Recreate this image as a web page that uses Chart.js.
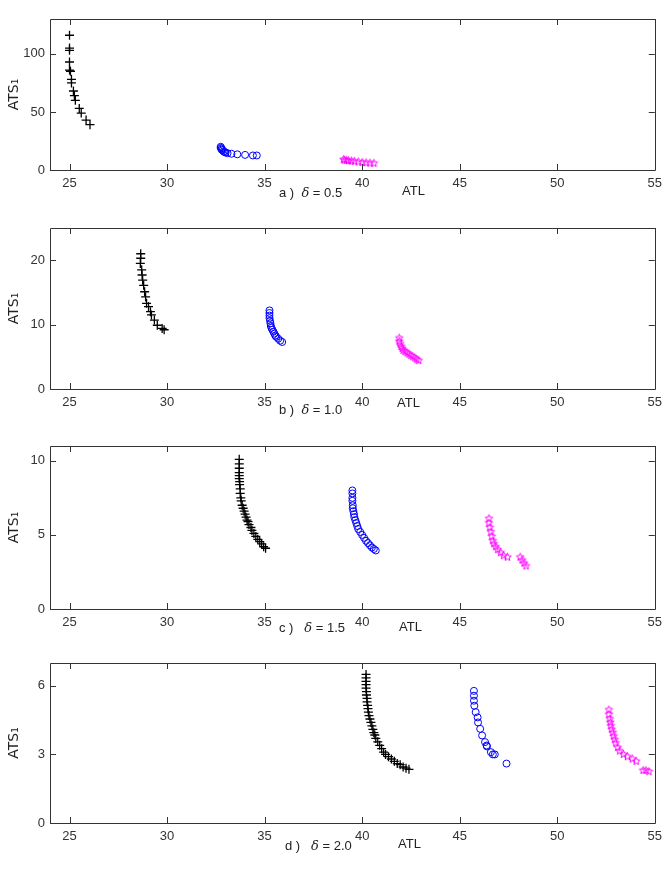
<!DOCTYPE html>
<html>
<head>
<meta charset="utf-8">
<script src="https://cdn.jsdelivr.net/npm/chart.js@4"></script>
<style>
  html, body { margin: 0; padding: 0; background: #fff; }
  #page { position: relative; width: 668px; height: 873px; overflow: hidden; }
  #page canvas { position: absolute; left: 0; }
  .cap { position: absolute; font: 13px "Liberation Sans", Arial, sans-serif; color: #222; white-space: pre; line-height: 14px; }
  .cap i { font-family: "DejaVu Serif", serif; font-style: italic; }
</style>
</head>
<body>
<div id="page">
  <canvas id="pa" width="668" height="210" style="top:0px"></canvas>
  <canvas id="pb" width="668" height="220" style="top:210px"></canvas>
  <canvas id="pc" width="668" height="220" style="top:430px"></canvas>
  <canvas id="pd" width="668" height="223" style="top:650px"></canvas>
  <div class="cap" style="left:279px;top:186px">a )  <i>δ</i> = 0.5</div>
  <div class="cap" style="left:402px;top:184px">ATL</div>
  <div class="cap" style="left:279px;top:403px">b )  <i>δ</i> = 1.0</div>
  <div class="cap" style="left:397px;top:396px">ATL</div>
  <div class="cap" style="left:279px;top:621px">c )   <i>δ</i> = 1.5</div>
  <div class="cap" style="left:399px;top:620px">ATL</div>
  <div class="cap" style="left:285px;top:839px">d )   <i>δ</i> = 2.0</div>
  <div class="cap" style="left:398px;top:837px">ATL</div>
</div>
<script>
// shared axis ticks
const xTicks = [25, 30, 35, 40, 45, 50, 55];
const yTicksA = [0, 50, 100];
const yTicksB = [0, 10, 20];
const yTicksC = [0, 5, 10];
const yTicksD = [0, 3, 6];

// a) delta = 0.5
const aPlusX = [25.0, 25.0, 25.0, 25.0, 25.0, 25.05, 25.1, 25.1, 25.2, 25.25, 25.3, 25.5, 25.6, 25.85, 26.05];
const aPlusY = [116, 105, 103, 93, 86, 85, 78, 75, 68, 64, 60, 53, 49, 43, 39];
const aCircX = [32.75, 32.75, 32.8, 32.8, 32.85, 32.9, 32.95, 33.0, 33.1, 33.3, 33.6, 34.0, 34.4, 34.6];
const aCircY = [20, 19, 18.5, 17.5, 17, 16, 15.5, 15, 14.5, 14, 13.5, 13, 12.5, 12.5];
const aStarX = [39.05, 39.1, 39.2, 39.3, 39.45, 39.6, 39.8, 40.0, 40.2, 40.4, 40.6];
const aStarY = [9.0, 8.5, 8.3, 8.0, 7.8, 7.5, 7.0, 6.5, 6.2, 6.0, 5.8];

// b) delta = 1.0
const bPlusX = [28.65, 28.65, 28.63, 28.7, 28.72, 28.75, 28.8, 28.85, 28.9, 28.95, 29.05, 29.15, 29.2, 29.35, 29.5, 29.75, 29.85];
const bPlusY = [21.0, 20.3, 19.5, 18.5, 17.7, 16.9, 16.1, 15.1, 14.3, 13.3, 12.8, 12.0, 11.5, 10.7, 9.9, 9.4, 9.2];
const bCircX = [35.25, 35.25, 35.25, 35.25, 35.28, 35.3, 35.32, 35.35, 35.4, 35.45, 35.5, 35.55, 35.6, 35.7, 35.8, 35.9];
const bCircY = [12.2, 11.8, 11.4, 11.0, 10.6, 10.2, 9.8, 9.5, 9.2, 8.9, 8.6, 8.3, 8.1, 7.8, 7.5, 7.3];
const bStarX = [41.9, 41.9, 41.95, 42.0, 42.05, 42.1, 42.2, 42.3, 42.4, 42.5, 42.6, 42.7, 42.8, 42.9];
const bStarY = [7.9, 7.4, 7.0, 6.6, 6.3, 6.0, 5.8, 5.6, 5.4, 5.2, 5.0, 4.8, 4.6, 4.4];

// c) delta = 1.5
const cPlusX = [33.7, 33.7, 33.7, 33.7, 33.7, 33.7, 33.72, 33.72, 33.75, 33.75, 33.78, 33.8, 33.85, 33.9, 33.95, 34.0, 34.05, 34.1, 34.15, 34.2, 34.3, 34.35, 34.45, 34.55, 34.65, 34.75, 34.85, 34.95, 35.05];
const cPlusY = [10.1, 9.8, 9.5, 9.2, 9.0, 8.8, 8.6, 8.4, 8.1, 7.8, 7.5, 7.3, 7.0, 6.8, 6.6, 6.4, 6.2, 6.0, 5.9, 5.7, 5.5, 5.3, 5.1, 4.9, 4.7, 4.55, 4.4, 4.2, 4.1];
const cCircX = [39.5, 39.5, 39.5, 39.5, 39.52, 39.52, 39.55, 39.58, 39.6, 39.65, 39.7, 39.75, 39.8, 39.9, 40.0, 40.1, 40.2, 40.3, 40.4, 40.5, 40.6, 40.7];
const cCircY = [8.0, 7.8, 7.5, 7.3, 7.0, 6.8, 6.6, 6.4, 6.2, 6.0, 5.8, 5.6, 5.4, 5.2, 5.0, 4.8, 4.6, 4.45, 4.3, 4.15, 4.05, 3.95];
const cStarX = [46.5, 46.5, 46.55, 46.6, 46.65, 46.7, 46.75, 46.85, 46.95, 47.1, 47.25, 47.45, 48.1, 48.2, 48.3, 48.4];
const cStarY = [6.1, 5.8, 5.5, 5.2, 4.9, 4.6, 4.4, 4.2, 4.0, 3.8, 3.6, 3.5, 3.5, 3.3, 3.1, 2.9];

// d) delta = 2.0
const dPlusX = [40.2, 40.2, 40.2, 40.2, 40.2, 40.22, 40.22, 40.25, 40.25, 40.28, 40.3, 40.32, 40.35, 40.4, 40.45, 40.5, 40.55, 40.6, 40.65, 40.7, 40.8, 40.9, 41.0, 41.1, 41.2, 41.35, 41.5, 41.65, 41.8, 41.95, 42.1, 42.25, 42.4];
const dPlusY = [6.5, 6.35, 6.2, 6.05, 5.9, 5.75, 5.6, 5.45, 5.3, 5.15, 5.0, 4.85, 4.7, 4.55, 4.4, 4.25, 4.1, 3.95, 3.85, 3.7, 3.55, 3.4, 3.25, 3.1, 3.0, 2.9, 2.8, 2.7, 2.6, 2.55, 2.45, 2.4, 2.35];
const dCircX = [45.73, 45.73, 45.73, 45.75, 45.82, 45.92, 45.94, 46.05, 46.15, 46.3, 46.38, 46.4, 46.6, 46.7, 46.8, 47.4];
const dCircY = [5.78, 5.57, 5.35, 5.13, 4.85, 4.62, 4.4, 4.12, 3.83, 3.54, 3.39, 3.35, 3.1, 3.0, 3.0, 2.6];
const dStarX = [52.65, 52.65, 52.7, 52.72, 52.75, 52.8, 52.85, 52.9, 52.95, 53.0, 53.1, 53.2, 53.4, 53.6, 53.85, 54.05, 54.4, 54.55, 54.7];
const dStarY = [4.95, 4.75, 4.55, 4.4, 4.25, 4.1, 3.95, 3.8, 3.65, 3.5, 3.3, 3.15, 3.0, 2.9, 2.8, 2.7, 2.3, 2.3, 2.25];

const pts = (xs, ys) => xs.map((x, i) => ({ x: x, y: ys[i] }));

// little pentagram used as the magenta marker
function starImage(color, r) {
  const c = document.createElement('canvas');
  const s = Math.ceil(r * 2 + 3);
  c.width = c.height = s;
  const g = c.getContext('2d');
  g.strokeStyle = color;
  g.lineWidth = 1;
  g.beginPath();
  for (let i = 0; i < 10; i++) {
    const rad = i % 2 ? r * 0.45 : r;
    const ang = -Math.PI / 2 + i * Math.PI / 5;
    const px = s / 2 + rad * Math.cos(ang), py = s / 2 + rad * Math.sin(ang);
    if (i) g.lineTo(px, py); else g.moveTo(px, py);
  }
  g.closePath();
  g.stroke();
  return c;
}
const magStar = starImage('#ff00ff', 4);

// matlab style box with inward ticks on all four sides
const boxTicks = {
  id: 'boxTicks',
  afterDraw(chart) {
    const { ctx, chartArea: a, scales } = chart;
    ctx.save();
    ctx.strokeStyle = '#333';
    ctx.lineWidth = 1;
    ctx.beginPath();
    ctx.rect(Math.round(a.left) + 0.5, Math.round(a.top) + 0.5, Math.round(a.right - a.left), Math.round(a.bottom - a.top));
    scales.x.ticks.forEach(t => {
      const px = Math.round(scales.x.getPixelForValue(t.value)) + 0.5;
      ctx.moveTo(px, a.bottom); ctx.lineTo(px, a.bottom - 6);
      ctx.moveTo(px, a.top); ctx.lineTo(px, a.top + 6);
    });
    scales.y.ticks.forEach(t => {
      const py = Math.round(scales.y.getPixelForValue(t.value)) + 0.5;
      ctx.moveTo(a.left, py); ctx.lineTo(a.left + 6, py);
      ctx.moveTo(a.right, py); ctx.lineTo(a.right - 6, py);
    });
    ctx.stroke();
    ctx.restore();
  }
};

function makePanel(id, plus, circ, star, yMax, yTicks, padTop, xAxisH) {
  return new Chart(document.getElementById(id), {
    type: 'scatter',
    data: {
      datasets: [
        { data: plus, pointStyle: 'cross', pointRadius: 4.5, borderColor: '#000', borderWidth: 1.3 },
        { data: circ, pointStyle: 'circle', pointRadius: 3.5, borderColor: '#0000ff', backgroundColor: 'rgba(0,0,0,0)', borderWidth: 1 },
        { data: star, pointStyle: magStar, pointRadius: 4, borderColor: '#ff00ff' }
      ]
    },
    options: {
      responsive: false,
      animation: false,
      events: [],
      layout: { padding: { top: padTop, right: 12, left: 0, bottom: 0 } },
      plugins: { legend: { display: false }, tooltip: { enabled: false } },
      scales: {
        x: {
          type: 'linear', min: 24, max: 55,
          grid: { display: false, drawTicks: false },
          border: { display: false },
          afterBuildTicks: s => { s.ticks = xTicks.map(v => ({ value: v })); },
          afterFit: s => { s.height = xAxisH; },
          ticks: { color: '#333', padding: 6, maxRotation: 0, font: { family: 'Liberation Sans', size: 13 } }
        },
        y: {
          type: 'linear', min: 0, max: yMax,
          grid: { display: false, drawTicks: false },
          border: { display: false },
          afterBuildTicks: s => { s.ticks = yTicks.map(v => ({ value: v })); },
          afterFit: s => { s.width = 50; },
          ticks: { color: '#333', padding: 5, font: { family: 'Liberation Sans', size: 13 } },
          title: { display: true, text: 'ATS₁', color: '#222', padding: { top: 6 }, font: { family: 'DejaVu Sans', size: 14 } }
        }
      }
    },
    plugins: [boxTicks]
  });
}

makePanel('pa', pts(aPlusX, aPlusY), pts(aCircX, aCircY), pts(aStarX, aStarY), 130, yTicksA, 19, 40);
makePanel('pb', pts(bPlusX, bPlusY), pts(bCircX, bCircY), pts(bStarX, bStarY), 25, yTicksB, 18, 41);
makePanel('pc', pts(cPlusX, cPlusY), pts(cCircX, cCircY), pts(cStarX, cStarY), 11, yTicksC, 16, 41);
makePanel('pd', pts(dPlusX, dPlusY), pts(dCircX, dCircY), pts(dStarX, dStarY), 7, yTicksD, 13, 50);
</script>
</body>
</html>
